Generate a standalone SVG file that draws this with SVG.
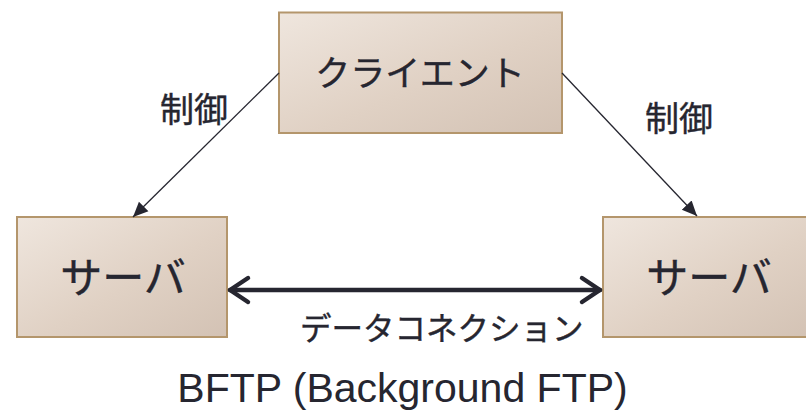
<svg xmlns="http://www.w3.org/2000/svg" width="806" height="411" viewBox="0 0 806 411">
  <defs>
    <linearGradient id="boxFill" x1="0" y1="0" x2="1" y2="1">
      <stop offset="0" stop-color="#efe6de"/>
      <stop offset="0.55" stop-color="#e0d1c4"/>
      <stop offset="1" stop-color="#d3c2b4"/>
    </linearGradient>
    <marker id="tri" viewBox="0 0 10 10" refX="10" refY="5" markerWidth="15" markerHeight="15" markerUnits="userSpaceOnUse" orient="auto">
      <path d="M0,0.5 L10,5 L0,9.5 z" fill="#262630"/>
    </marker>
  </defs>
  <style>
    .box { fill: url(#boxFill); stroke: #b4966c; stroke-width: 2; }
    .jp { font-family: "Noto Sans CJK JP", "Liberation Sans", sans-serif; fill: #262630; stroke: #262630; stroke-width: 0.4; }
    .node { text-anchor: middle; }
    .thin { stroke: #262630; stroke-width: 1.3; fill: none; }
    .thick { stroke: #262630; stroke-width: 4.5; fill: none; stroke-linecap: round; stroke-linejoin: round; }
  </style>

  <g id="client">
    <rect class="box" x="279" y="12.5" width="283" height="120.5"/>
    <text class="jp node" x="420" y="86" font-size="35">クライエント</text>
  </g>
  <g id="server-left">
    <rect class="box" x="17" y="217" width="210" height="120"/>
    <text class="jp node" x="123" y="293" font-size="42">サーバ</text>
  </g>
  <g id="server-right">
    <rect class="box" x="603" y="217" width="212" height="120"/>
    <text class="jp node" x="709" y="293" font-size="42">サーバ</text>
  </g>

  <g id="connectors">
    <line class="thin" x1="279" y1="73" x2="133" y2="217" marker-end="url(#tri)"/>
    <line class="thin" x1="562" y1="73" x2="697" y2="216" marker-end="url(#tri)"/>
    <line class="thick" x1="230" y1="290" x2="600" y2="290"/>
    <polyline class="thick" points="248,278 230,290 248,302"/>
    <polyline class="thick" points="582,278 600,290 582,302"/>
  </g>

  <g id="labels">
    <text class="jp" x="160" y="122" font-size="34">制御</text>
    <text class="jp" x="645" y="131" font-size="34">制御</text>
    <text class="jp" x="300" y="340" font-size="31.5">データコネクション</text>
    <text x="402.5" y="402" font-family="Liberation Sans, Arial, sans-serif" font-size="41" fill="#262630" text-anchor="middle">BFTP (Background FTP)</text>
  </g>
</svg>
